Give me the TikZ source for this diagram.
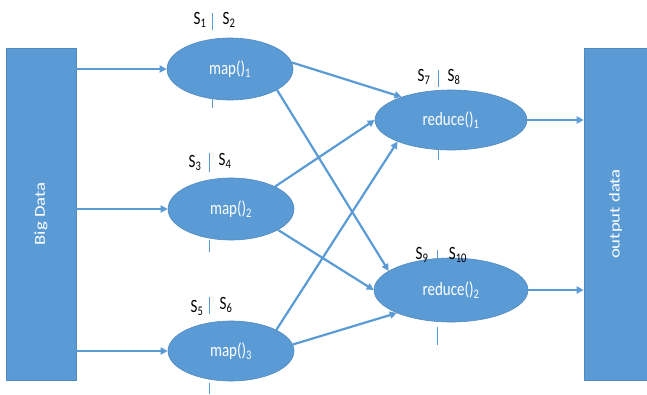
\documentclass[tikz,border=0pt]{standalone}
\usepackage{fontspec}
\setmainfont{Carlito}
\usetikzlibrary{arrows.meta,shapes.geometric}
\definecolor{ofblue}{RGB}{91,155,213}
\definecolor{ofedge}{RGB}{80,137,190}
\newcommand{\vst}[1]{\scalebox{1}[1.25]{#1}}
\newcommand{\hst}[1]{\scalebox{1.25}[1]{#1}}
\tikzset{
  oval/.style={ellipse,fill=ofblue,draw=ofedge,line width=0.6pt,inner sep=0pt,text=white,font=\fontsize{15}{17}\selectfont},
  bar/.style={rectangle,fill=ofblue,draw=ofedge,line width=0.6pt,inner sep=0pt,text=white,font=\fontsize{15}{17}\selectfont},
  flow/.style={ofblue,line width=2.2pt,-{Triangle[length=7pt,width=7pt]}},
  sline/.style={ofblue,line width=1pt},
  slab/.style={inner sep=0pt,font=\fontsize{15}{17}\selectfont}
}
\begin{document}
\begin{tikzpicture}[x=1pt,y=-1pt]
\useasboundingbox (0,0) rectangle (647,394);
% dashed marks (behind ellipses)
\coordinate (d1a) at (212,13); \coordinate (d1b) at (212,30);
\coordinate (d1c) at (212,98); \coordinate (d1d) at (212,108);
\coordinate (d2a) at (209,153); \coordinate (d2b) at (209,172);
\coordinate (d2c) at (209,240); \coordinate (d2d) at (209,252);
\coordinate (d3a) at (209,297); \coordinate (d3b) at (209,314);
\coordinate (d3c) at (209,383); \coordinate (d3d) at (209,394);
\coordinate (d4a) at (438,70); \coordinate (d4b) at (438,87);
\coordinate (d4c) at (438,150); \coordinate (d4d) at (438,160);
\coordinate (d5a) at (437,250); \coordinate (d5b) at (437,263);
\coordinate (d5c) at (437,327); \coordinate (d5d) at (437,345);
\foreach \i in {1,...,5}{
  \draw[sline] (d\i a) -- (d\i b);
  \draw[sline] (d\i c) -- (d\i d);
}
% boxes
\node[bar,minimum width=70pt,minimum height=332pt] (bd) at (41,214) {\rotatebox{90}{\hst{Big Data}}};
\node[bar,minimum width=63pt,minimum height=332pt] (od) at (615.5,214) {\rotatebox{90}{\hst{output data}}};
% map ellipses
\node[oval,minimum width=126pt,minimum height=62pt] (m1) at (230,69) {\vst{map()\textsubscript{1}}};
\node[oval,minimum width=126pt,minimum height=62pt] (m2) at (231,209) {\vst{map()\textsubscript{2}}};
\node[oval,minimum width=126pt,minimum height=60pt] (m3) at (231,351) {\vst{map()\textsubscript{3}}};
% reduce ellipses
\node[oval,minimum width=152pt,minimum height=60pt] (r1) at (451,120) {\vst{reduce()\textsubscript{1}}};
\node[oval,minimum width=154pt,minimum height=64pt] (r2) at (451,290) {\vst{reduce()\textsubscript{2}}};
% S labels
\node[slab] (s1) at (200,20) {\vst{S\textsubscript{1}}};
\node[slab] (s2) at (229,20) {\vst{S\textsubscript{2}}};
\node[slab] (s3) at (195,163) {\vst{S\textsubscript{3}}};
\node[slab] (s4) at (225,161) {\vst{S\textsubscript{4}}};
\node[slab] (s5) at (197,308) {\vst{S\textsubscript{5}}};
\node[slab] (s6) at (226,305) {\vst{S\textsubscript{6}}};
\node[slab] (s7) at (424,77) {\vst{S\textsubscript{7}}};
\node[slab] (s8) at (454,77) {\vst{S\textsubscript{8}}};
\node[slab] (s9) at (422,255) {\vst{S\textsubscript{9}}};
\node[slab] (s10) at (458,255) {\vst{S\textsubscript{10}}};
% input arrows
\draw[flow] (m1.west -| bd.east) -- (m1.west);
\draw[flow] (m2.west -| bd.east) -- (m2.west);
\draw[flow] (m3.west -| bd.east) -- (m3.west);
% shuffle arrows
\draw[flow] (m1.6) -- (r1.155);
\draw[flow] (m1.-24) -- (r2.163);
\draw[flow] (m2.27) -- (r1.west);
\draw[flow] (m2.-24) -- (r2.west);
\draw[flow] (m3.25) -- (r1.202);
\draw[flow] (m3.6) -- (r2.203);
% output arrows
\draw[flow] (r1.east) -- (r1.east -| od.west);
\draw[flow] (r2.east) -- (r2.east -| od.west);
\end{tikzpicture}
\end{document}
